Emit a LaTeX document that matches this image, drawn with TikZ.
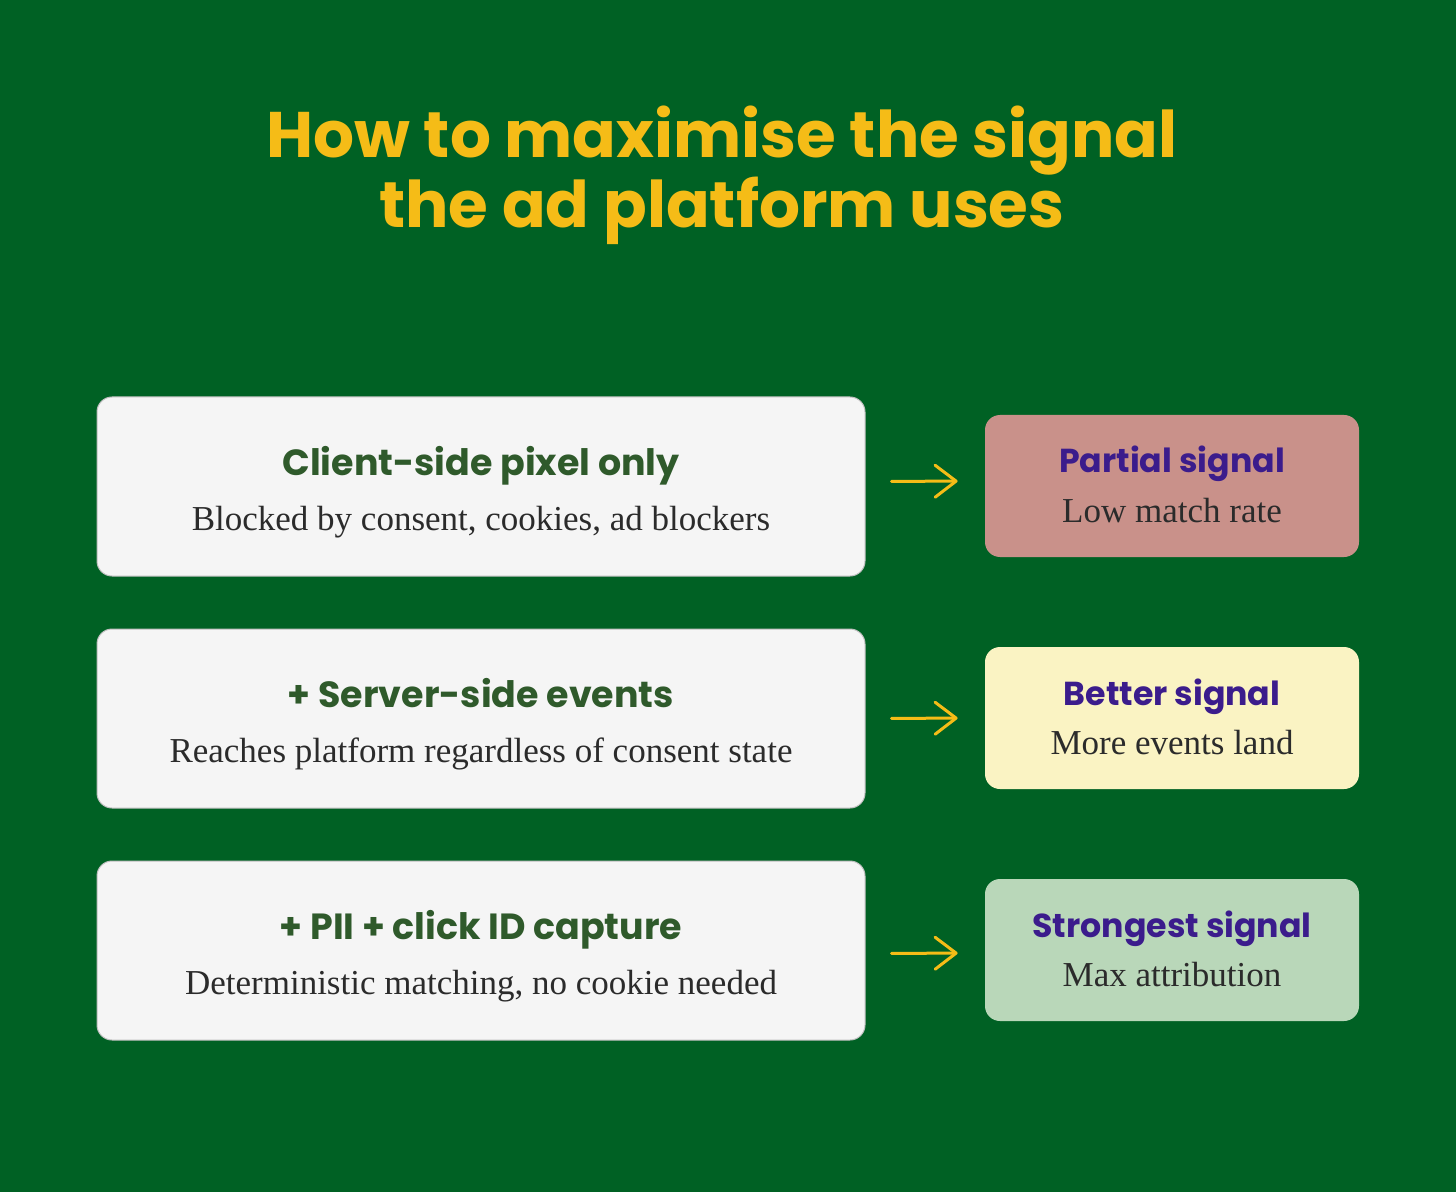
\documentclass[tikz,border=0pt]{standalone}
\usepackage{fontspec}
\usepackage{xcolor}
\usetikzlibrary{positioning,arrows.meta}
\setmainfont{Liberation Serif}
\newfontfamily\headfont{Poppins}
\definecolor{bggreen}{HTML}{006124}
\definecolor{signyellow}{HTML}{F5BC17}
\definecolor{stepgreen}{HTML}{2F5A2B}
\definecolor{resultpurple}{HTML}{3B1C8C}
\definecolor{bodygrey}{HTML}{2B2B2B}
\definecolor{partialfill}{HTML}{C9918A}
\definecolor{betterfill}{HTML}{FAF3C3}
\definecolor{strongfill}{HTML}{B9D7B9}
\tikzstyle{step-box} = [draw=black!25, fill=black!4, rounded corners=7.5pt,
    rectangle, minimum width=384pt, minimum height=89.5pt, line width=0.5pt]
\tikzstyle{result-box} = [draw=none, rounded corners=7.5pt,
    rectangle, minimum width=187pt, minimum height=71pt]
\tikzstyle{step-title} = [anchor=base, text=stepgreen, font=\headfont\bfseries\fontsize{18.2}{22}\selectfont]
\tikzstyle{step-text} = [anchor=base, text=bodygrey, font=\fontsize{17.5}{20}\selectfont]
\tikzstyle{result-title} = [anchor=base, text=resultpurple, font=\headfont\bfseries\fontsize{16.6}{20}\selectfont]
\tikzstyle{result-text} = [anchor=base, text=bodygrey, font=\fontsize{17.5}{20}\selectfont]
\tikzstyle{sig-arrow} = [draw=signyellow, line width=1.5pt, line cap=round,
    -{Straight Barb[length=10.5pt,width=16pt,line cap=round,line join=round]},
    shorten <=13pt, shorten >=13.5pt]

\begin{document}
\begin{tikzpicture}[x=0.5pt,y=-0.5pt]
\fill[bggreen] (0,0) rectangle (1456,1192);
\useasboundingbox (0,0) rectangle (1456,1192);

\node[text=signyellow, align=center, font=\headfont\bfseries\fontsize{32.2}{33}\selectfont] (title) at (722,175)
    {How to maximise the signal\\the ad platform uses};

% steps on the left
\node[step-box] (client) at (481,486.5) {};
\node[step-box] (server) at (481,718.5) {};
\node[step-box] (pii) at (481,950.5) {};

\node[step-title] (clienthead) at ([yshift=5.75pt]client.center) {Client-side pixel only};
\node[step-text] (clientnote) at ([yshift=-21.75pt]client.center) {Blocked by consent, cookies, ad blockers};
\node[step-title] (serverhead) at ([yshift=5.75pt]server.center) {+ Server-side events};
\node[step-text] (servernote) at ([yshift=-21.75pt]server.center) {Reaches platform regardless of consent state};
\node[step-title] (piihead) at ([yshift=5.75pt]pii.center) {+ PII + click ID capture};
\node[step-text] (piinote) at ([yshift=-21.75pt]pii.center) {Deterministic matching, no cookie needed};

% results on the right
\node[result-box,fill=partialfill] (partial) at (1172,486) {};
\node[result-box,fill=betterfill] (better) at (1172,718) {};
\node[result-box,fill=strongfill] (strong) at (1172,950) {};

\node[result-title] (partialhead) at ([yshift=6.5pt]partial.center) {Partial signal};
\node[result-text] (partialnote) at ([yshift=-18pt]partial.center) {Low match rate};
\node[result-title] (betterhead) at ([yshift=6.5pt]better.center) {Better signal};
\node[result-text] (betternote) at ([yshift=-18pt]better.center) {More events land};
\node[result-title] (stronghead) at ([yshift=6.5pt]strong.center) {Strongest signal};
\node[result-text] (strongnote) at ([yshift=-18pt]strong.center) {Max attribution};

\draw[sig-arrow] ([yshift=2.5pt]client.east) -- ([yshift=2.5pt]partial.west);
\draw[sig-arrow] (server.east) -- (better.west);
\draw[sig-arrow] ([yshift=-1.5pt]pii.east) -- ([yshift=-1.5pt]strong.west);
\end{tikzpicture}
\end{document}
